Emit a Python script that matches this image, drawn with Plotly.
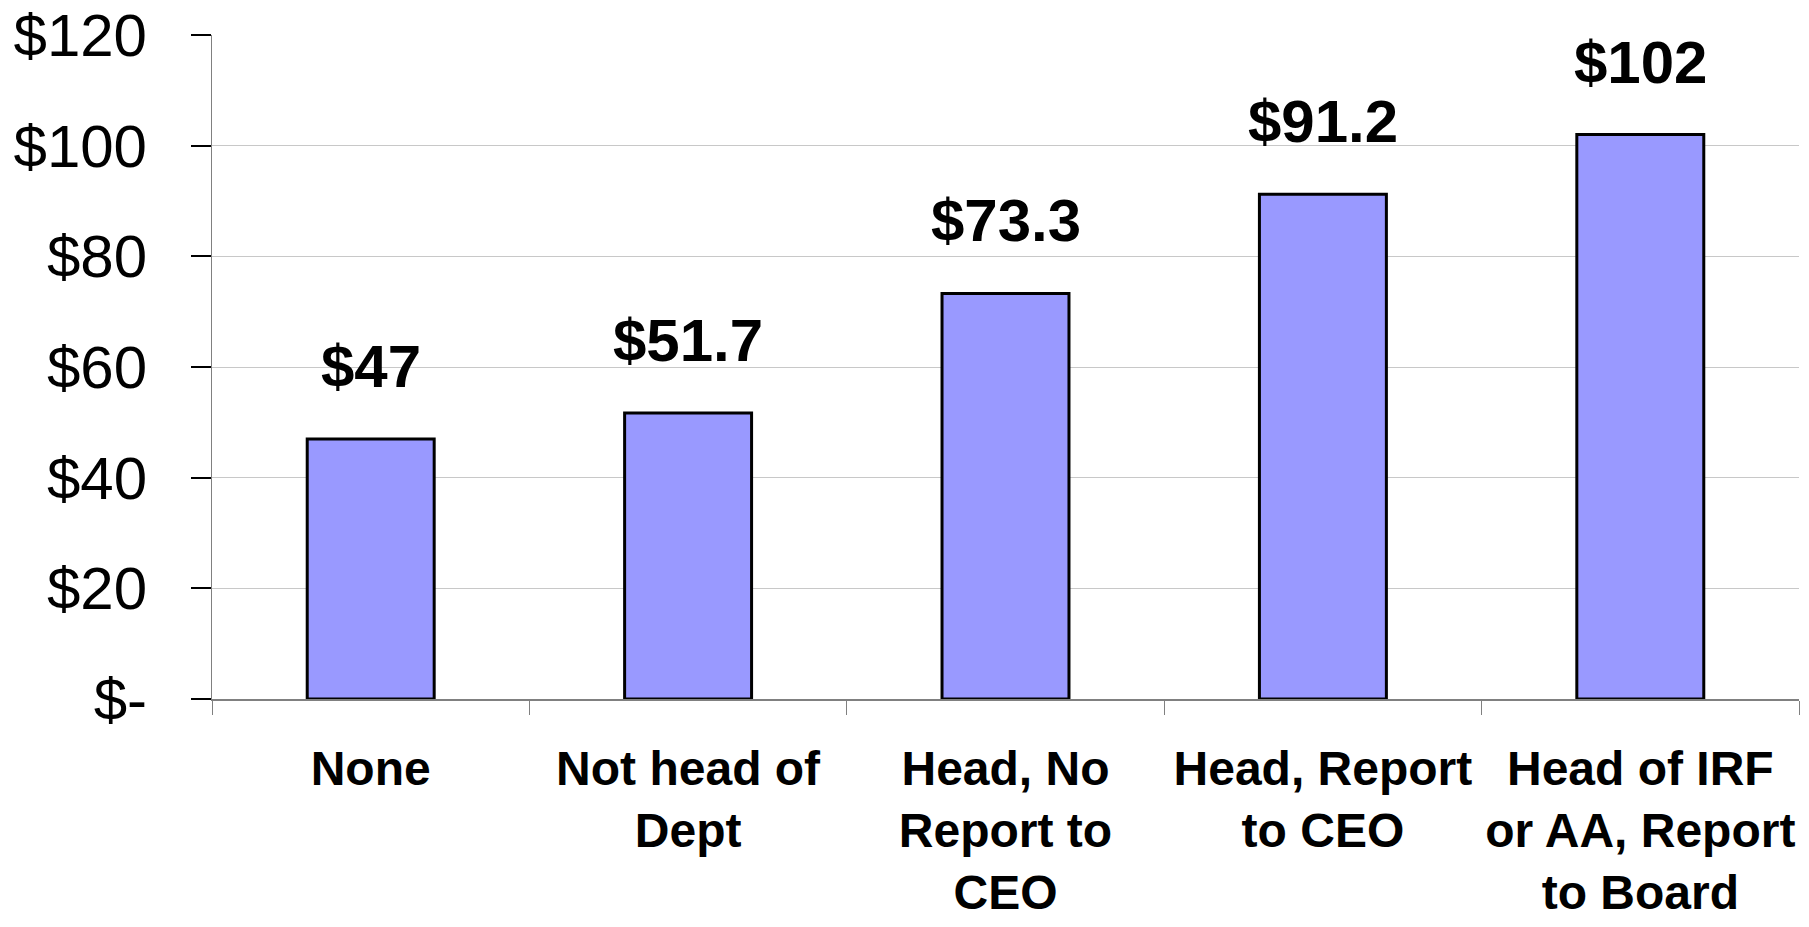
import plotly.graph_objects as go

categories = [
    "None",
    "Not head of<br>Dept",
    "Head, No<br>Report to<br>CEO",
    "Head, Report<br>to CEO",
    "Head of IRF<br>or AA, Report<br>to Board",
]
values = [47, 51.7, 73.3, 91.2, 102]
value_labels = ["$47", "$51.7", "$73.3", "$91.2", "$102"]
y_tickvals = [0, 20, 40, 60, 80, 100, 120]
y_ticktext = ["$-", "$20", "$40", "$60", "$80", "$100", "$120"]

FONT = "Liberation Sans, Arial, sans-serif"

fig = go.Figure()
fig.add_trace(go.Bar(
    x=categories,
    y=values,
    marker=dict(color="#9999FF", line=dict(color="black", width=3)),
    hoverinfo="skip",
    cliponaxis=False,
))

for c, v, t in zip(categories, values, value_labels):
    fig.add_annotation(
        x=c, y=v, text="<b>" + t + "</b>", showarrow=False,
        yanchor="bottom", yshift=37,
        font=dict(family=FONT, size=60, color="black"),
    )

fig.update_layout(
    width=1809, height=927,
    margin=dict(l=212, r=10, t=35, b=228),
    paper_bgcolor="white", plot_bgcolor="white",
    bargap=0.6,
    showlegend=False,
    font=dict(family=FONT, color="black"),
)
fig.update_xaxes(
    type="category",
    tickson="boundaries",
    ticks="outside", ticklen=14, tickwidth=1, tickcolor="#808080",
    showline=True, linecolor="#808080", linewidth=2,
    showgrid=False,
    tickangle=0,
    tickfont=dict(family=FONT, size=48, color="black", weight="bold"),
    ticklabelstandoff=26,
    range=[-0.5, 4.5],
    automargin=False,
)
fig.update_yaxes(
    range=[0, 120],
    tickvals=y_tickvals, ticktext=y_ticktext,
    ticks="outside", ticklen=20, tickwidth=2, tickcolor="black",
    showline=True, linecolor="#808080", linewidth=1,
    showgrid=True, gridcolor="#C8C8C8", gridwidth=1,
    zeroline=False,
    tickfont=dict(family=FONT, size=60, color="black"),
    ticklabelstandoff=32,
    automargin=False,
)

fig.write_html(
    "out.html",
    config={"displayModeBar": False},
    post_script="document.body.style.margin='0px';document.body.style.overflow='hidden';",
)
